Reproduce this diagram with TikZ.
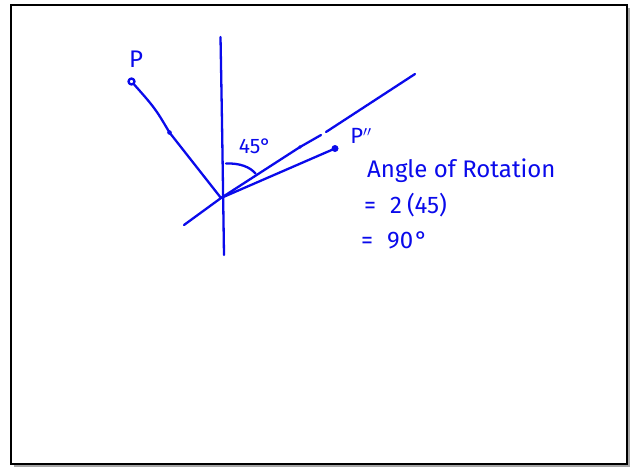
\documentclass[tikz,border=0pt]{standalone}
\usepackage{fontspec}
\setmainfont{Fira Sans}
\definecolor{ink}{RGB}{10,10,235}
\begin{document}
\begin{tikzpicture}[x=1pt,y=-1pt,
  pen/.style={ink,line width=2.3pt,line cap=round,line join=round},
  hand/.style={ink,inner sep=0pt,font=\fontsize{24}{28}\selectfont}]
\useasboundingbox (0,0) rectangle (635,467);
\fill[white] (0,0) rectangle (635,467);
% frame with shadow
\draw[gray!70,line width=2.5pt] (14,465.5) -- (629,465.5) -- (629,8);
\draw[black,line width=2pt] (11,5) rectangle (627,464);
% geometry
\coordinate (O) at (221,198);
\coordinate (Vt) at (220.5,37);
\coordinate (Vb) at (224,255);
\coordinate (Ma) at (184,225);
\coordinate (Mb) at (415,74);
\coordinate (G1) at (326,132);
\coordinate (G2) at (321,135);
\coordinate (G3) at (300,147);
\coordinate (P) at (131.5,81.5);
\coordinate (Pm) at (169.5,132.5);
\coordinate (Q) at (335,148.5);
\draw[pen] (Vt) .. controls (222,120) .. (Vb);
\draw[pen] (Ma) -- (O) -- (G3);
\draw[pen] (G3) -- (G2);
\draw[pen] (G1) -- (Mb);
\fill[ink] (G3) circle (1.8);
\draw[pen] (P) .. controls (155,108) .. (Pm) -- (O);
\fill[ink] (Pm) circle (2.3);
\draw[pen,fill=white] (P) circle (3);
\draw[pen] (O) -- (Q);
\fill[ink] (Q) circle (3.5);
\draw[pen] (226,163.5) .. controls (240,163) and (250,167) .. (255.5,173.5);
% labels
\node[hand] (lP) at (136,59) {P};
\node[hand,font=\fontsize{22}{26}\selectfont] (lQ) at (361,136) {P$^{\prime\prime}$};
\node[hand,font=\fontsize{21}{24}\selectfont] (l45) at (255,146) {45°};
\node[hand,anchor=west] (t1) at (367,171) {Angle of Rotation};
\node[hand,anchor=west] (t2) at (364,205) {=\hspace{14pt}2\hspace{5pt}(45)};
\node[hand,anchor=west] (t3) at (361,240) {=\hspace{14pt}90\hspace{2pt}°};
\end{tikzpicture}
\end{document}
